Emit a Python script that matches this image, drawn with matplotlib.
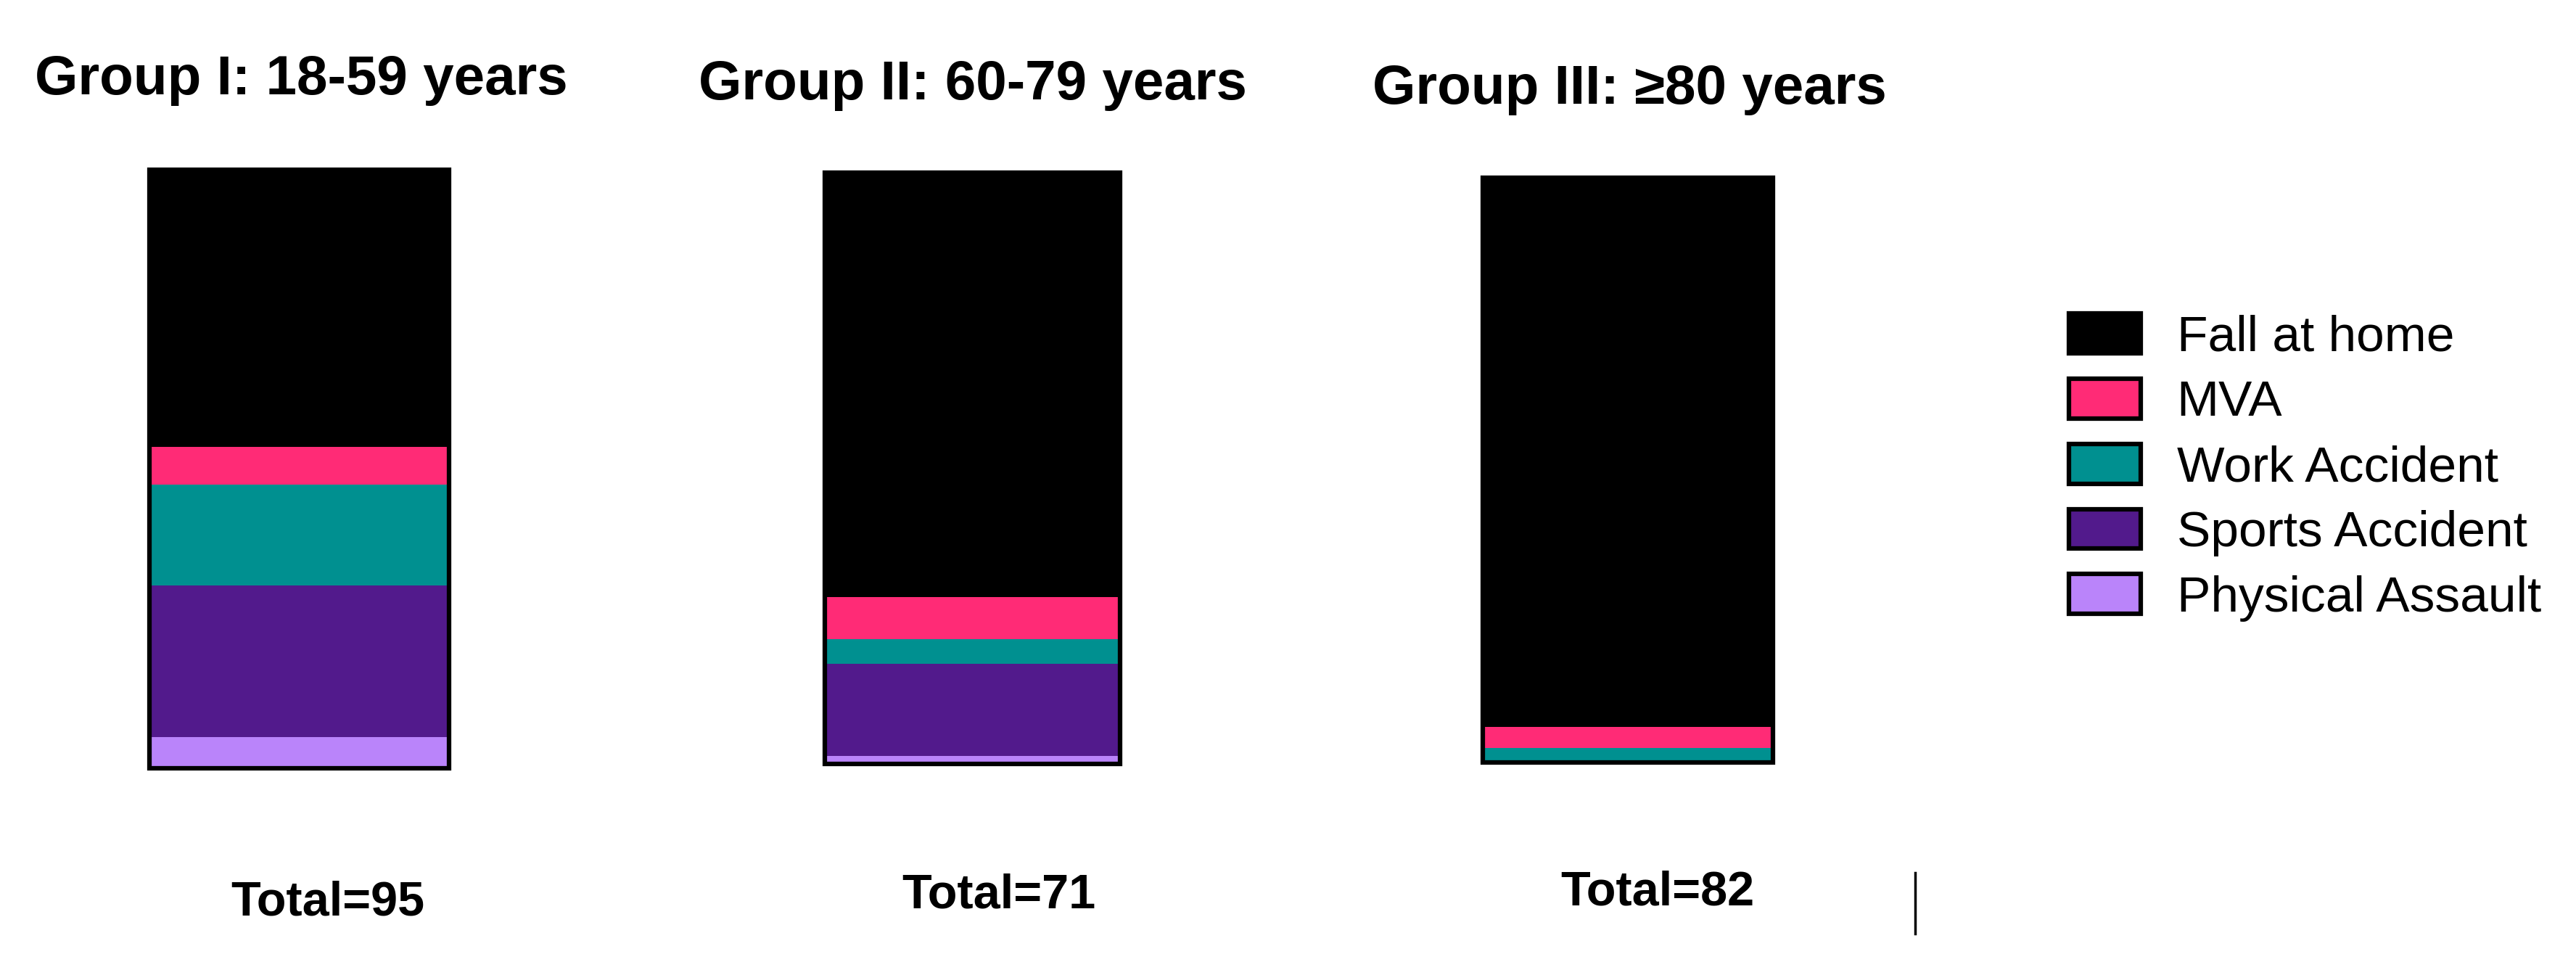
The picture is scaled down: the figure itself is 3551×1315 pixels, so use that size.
import matplotlib
matplotlib.use("Agg")
import matplotlib.pyplot as plt
from matplotlib.patches import Patch
from matplotlib.lines import Line2D

plt.rcParams['font.family'] = ['Liberation Sans', 'DejaVu Sans']

# --- data -----------------------------------------------------------------
causes = ["Fall at home", "MVA", "Work Accident", "Sports Accident", "Physical Assault"]
cause_colors = ["#000000", "#FF2B76", "#009090", "#521A8C", "#BA84FA"]

groups = ["Group I: 18-59 years", "Group II: 60-79 years", "Group III: \u226580 years"]
totals = [95, 71, 82]
# patients per cause, same order as `causes`
group1 = [44, 6, 16, 24, 5]
group2 = [51, 5, 3, 11, 1]
group3 = [77, 3, 2, 0, 0]
counts = [group1, group2, group3]

# --- layout (pixels in the 3551x1315 canvas) -------------------------------
W, H = 3551, 1315
bar_boxes = [(206, 234, 619, 1059), (1137, 238, 1544, 1053), (2044, 245, 2444, 1051)]
title_pos = [(415, 130), (1341, 137), (2246, 143)]
total_pos = [(452, 1262), (1377, 1251), (2285, 1247)]
EDGE_LW = 4.5

fig = plt.figure(figsize=(W / 100, H / 100), dpi=100)


def fx(px):
    return px / W


def fy(py):
    return 1 - py / H


for name, total, vals, box, tpos, npos in zip(groups, totals, counts,
                                              bar_boxes, title_pos, total_pos):
    l, t, r, b = box
    ax = fig.add_axes([fx(l), fy(b), (r - l) / W, (b - t) / H])
    ax.set_xlim(-0.5, 0.5)
    ax.set_ylim(0, total)
    ax.axis("off")

    # stack bottom-up: last cause sits at the bottom
    bottom = 0
    for v, c in zip(vals[::-1], cause_colors[::-1]):
        if v:
            ax.bar(0, v, width=1.0, bottom=bottom, color=c, linewidth=0)
        bottom += v
    ax.bar(0, total, width=1.0, fill=False, edgecolor="black",
           linewidth=EDGE_LW, clip_on=False, zorder=3)

    fig.text(fx(tpos[0]), fy(tpos[1]), name, ha="center", va="baseline",
             fontsize=55, fontweight="bold")
    fig.text(fx(npos[0]), fy(npos[1]), f"Total={total}", ha="center",
             va="baseline", fontsize=48, fontweight="bold")

# stray separator tick at the bottom right
fig.add_artist(Line2D([fx(2640), fx(2640)], [fy(1203), fy(1287)],
                      color="black", lw=2.5))

handles = [Patch(facecolor=c, edgecolor="black", linewidth=EDGE_LW)
           for c in cause_colors]
fig.legend(handles, causes, loc="upper left",
           bbox_to_anchor=(fx(2852), fy(432)), frameon=False,
           fontsize=50, handlelength=1.42, handleheight=0.84,
           handletextpad=0.72, labelspacing=0.35, borderpad=0,
           borderaxespad=0)

fig.savefig("out.png", dpi=100)
